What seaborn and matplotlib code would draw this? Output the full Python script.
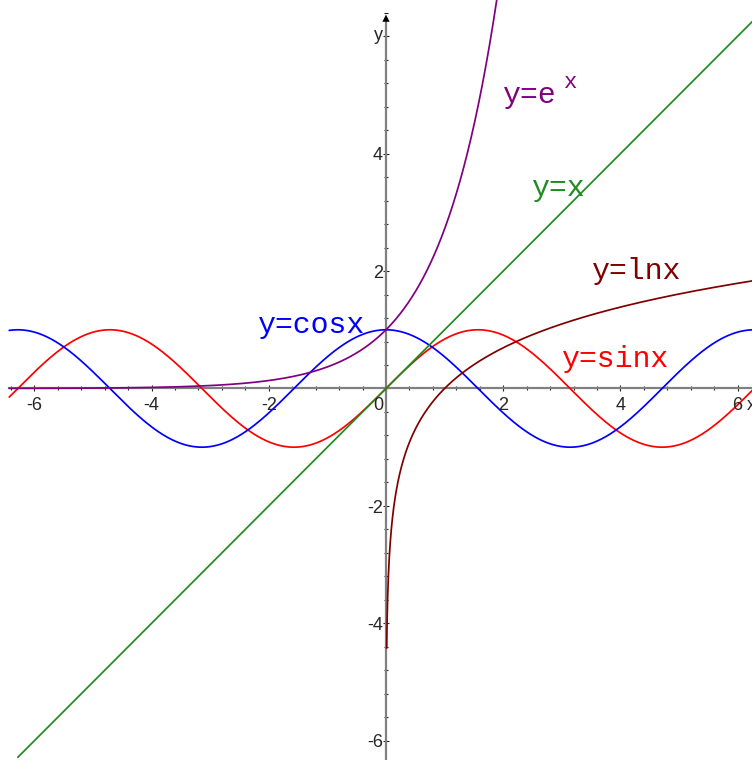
import numpy as np
import pandas as pd
import seaborn as sns
import matplotlib.pyplot as plt
from matplotlib.transforms import offset_copy

# Plot domains for each function
trig_domain = [-6.43, 6.2832]
exp_domain = [-6.43, 1.95]
line_domain = [-6.2832, 6.2832]
ln_domain = [0.012, 6.2832]

# Curve labels, colours and label anchor points (left, baseline)
curve_names = ["y=sinx", "y=cosx", "y=e", "y=x", "y=lnx"]
curve_colors = ["#ff0000", "#0000ff", "#800080", "#1e8c1e", "#800000"]
label_x = [3.00, -2.19, 2.00, 2.49, 3.52]
label_y = [0.37, 0.95, 4.86, 3.28, 1.87]

# Axis ticks
major_ticks = [-6, -4, -2, 0, 2, 4, 6]
x_tick_labels = ["-6", "-4", "-2", "0", "2", "4", "6"]
y_tick_values = [-6, -4, -2, 2, 4]
y_tick_labels = ["-6", "-4", "-2", "2", "4"]
minor_step = 0.4

sns.set_style("white")
plt.rcParams["font.family"] = ["Liberation Sans", "DejaVu Sans"]

fig = plt.figure(figsize=(7.52, 7.6), dpi=100)
ax = fig.add_axes([0, 0, 1, 1])

n = 1200
xs_trig = np.linspace(*trig_domain, n)
xs_exp = np.linspace(*exp_domain, n)
xs_line = np.linspace(*line_domain, 2)
xs_ln = np.geomspace(*ln_domain, n)

curves = pd.concat([
    pd.DataFrame({"x": xs_trig, "y": np.sin(xs_trig), "f": "sin"}),
    pd.DataFrame({"x": xs_trig, "y": np.cos(xs_trig), "f": "cos"}),
    pd.DataFrame({"x": xs_exp, "y": np.exp(xs_exp), "f": "exp"}),
    pd.DataFrame({"x": xs_line, "y": xs_line, "f": "lin"}),
    pd.DataFrame({"x": xs_ln, "y": np.log(xs_ln), "f": "ln"}),
])
palette = dict(zip(["sin", "cos", "exp", "lin", "ln"], curve_colors))
for key, grp in curves.groupby("f", sort=False):
    sns.lineplot(data=grp, x="x", y="y", color=palette[key], lw=1.25,
                 ax=ax, sort=False, estimator=None, zorder=3)

# Axes through the origin
for s in ["top", "right"]:
    ax.spines[s].set_visible(False)
ax.spines["left"].set_position(("data", 0))
ax.spines["bottom"].set_position(("data", 0))
for s in ["left", "bottom"]:
    ax.spines[s].set_color("#808080")
    ax.spines[s].set_linewidth(1.6)
    ax.spines[s].set_zorder(1)
ax.spines["bottom"].set_bounds(-6.43, 6.6)
ax.spines["left"].set_bounds(-6.4, 6.3)

ax.set_xticks(major_ticks)
ax.set_yticks(major_ticks)
ax.set_xticks(np.arange(-6.4, 6.5, minor_step), minor=True)
ax.set_yticks(np.arange(-6.0, 6.5, minor_step), minor=True)
ax.tick_params(which="major", direction="inout", length=5, width=0.8,
               color="#222222", bottom=True, left=True,
               labelbottom=False, labelleft=False)
ax.tick_params(which="minor", direction="inout", length=3, width=0.8,
               color="#222222", bottom=True, left=True)
ax.set_xlabel("")
ax.set_ylabel("")
# view limits are set after the ticks so they are not widened
ax.set_xlim(-6.587, 6.246)
ax.set_ylim(-6.329, 6.618)

# Arrow head at the top of the vertical axis
ax.annotate("", xy=(0, 6.37), xytext=(0, 6.2),
            arrowprops=dict(arrowstyle="-|>", color="black", lw=0,
                            mutation_scale=13, shrinkA=0, shrinkB=0))

tick_fs = 13
for v, t in zip(major_ticks, x_tick_labels):
    if v == 0:
        tr = offset_copy(ax.transData, fig=fig, x=-2.2, y=-15.5, units="points")
        ax.text(v, 0, t, ha="right", va="baseline", fontsize=tick_fs, transform=tr)
    else:
        tr = offset_copy(ax.transData, fig=fig, x=0, y=-15.5, units="points")
        ax.text(v, 0, t, ha="center", va="baseline", fontsize=tick_fs, transform=tr)
for v, t in zip(y_tick_values, y_tick_labels):
    tr = offset_copy(ax.transData, fig=fig, x=-2.2, y=-4.8, units="points")
    ax.text(0, v, t, ha="right", va="baseline", fontsize=tick_fs, transform=tr)

# Axis names
tr = offset_copy(ax.transData, fig=fig, x=-2.2, y=-3, units="points")
ax.text(0, 6.0, "y", ha="right", va="baseline", fontsize=13, transform=tr)
tr = offset_copy(ax.transData, fig=fig, x=6.5, y=-15.5, units="points")
ax.text(6, 0, "x", ha="left", va="baseline", fontsize=13, transform=tr)

# Curve labels
mono = ["Liberation Mono", "DejaVu Sans Mono"]
for name, c, lx, ly in zip(curve_names, curve_colors, label_x, label_y):
    ax.text(lx, ly, name, color=c, fontsize=21.5, family=mono,
            ha="left", va="baseline", zorder=4)
# exponent of e^x
ax.text(3.03, 5.12, "x", color=curve_colors[2], fontsize=16, family=mono,
        ha="left", va="baseline", zorder=4)

fig.savefig("out.png", dpi=100)
